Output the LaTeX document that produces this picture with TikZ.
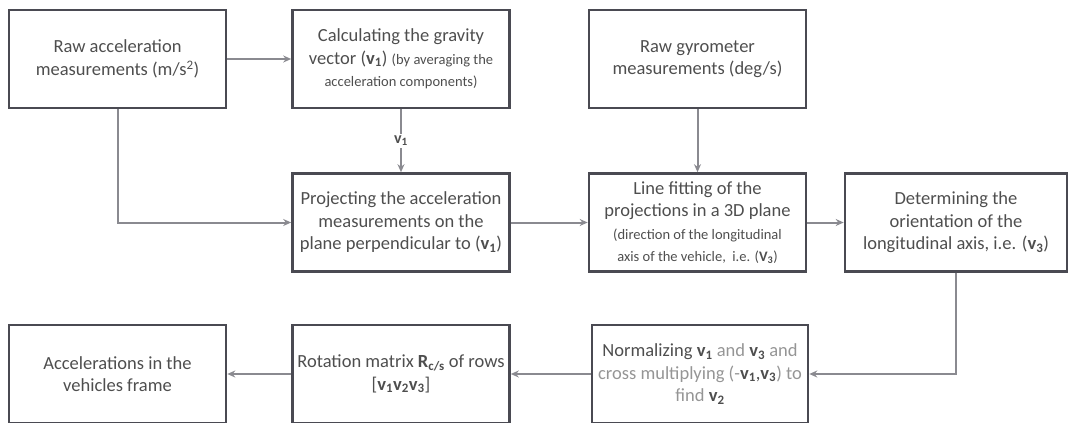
\documentclass[tikz,border=0pt]{standalone}
\usepackage{fontspec}
\setmainfont{Carlito}
\usetikzlibrary{arrows.meta}
\definecolor{FlowBorder}{HTML}{4A4A52}
\definecolor{FlowText}{HTML}{4E4E4E}
\definecolor{FlowArrow}{HTML}{8A8A90}
\definecolor{FlowFaint}{HTML}{959595}
\newcommand{\vb}[1]{\textbf{v\textsubscript{#1}}}
\newcommand{\smalltxt}{\fontsize{14.5}{19}\selectfont}

\begin{document}
\begin{tikzpicture}[x=1pt,y=-1pt,>={Stealth[length=8pt,width=7pt]},
  box/.style={draw=FlowBorder,line width=2.6pt,minimum width=217pt,minimum height=98pt,
    align=center,text=FlowText,font=\fontsize{18.5}{22.5}\selectfont,inner sep=2pt},
  flow/.style={->,FlowArrow,line width=2pt}]
  \useasboundingbox (0,0) rectangle (1069,423);
  % top row
  \node[box] (rawacc) at (117.5,59) {Raw acceleration\\measurements (m/s\textsuperscript{2})};
  \node[box] (gravity) at (401,59) {Calculating the gravity\\vector (\vb1) {\smalltxt (by averaging the}\\{\smalltxt acceleration components)}};
  \node[box] (rawgyro) at (697.5,59) {Raw gyrometer\\measurements (deg/s)};
  % middle row
  \node[box] (project) at (401,222.5) {Projecting the acceleration\\measurements on the\\plane perpendicular to (\vb1)};
  \node[box] (linefit) at (697.5,222.5) {Line fitting of the\\projections in a 3D plane\\{\smalltxt (direction of the longitudinal}\\{\smalltxt axis of the vehicle,\ \ i.e. (\textbf{V\textsubscript{3}})}};
  \node[box,minimum width=222pt] (orient) at (956,222.5) {Determining the\\orientation of the\\longitudinal axis, i.e. (\vb3)};
  % bottom row
  \node[box] (vehacc) at (117.5,374) {Accelerations in the\\vehicles frame};
  \node[box] (rotmat) at (401,374) {Rotation matrix \textbf{R\textsubscript{c/s}} of rows\\{[}\vb1\vb2\vb3{]}};
  \node[box,minimum width=216pt] (normal) at (700,374) {Normalizing \vb1 {\color{FlowFaint}and} \vb3 {\color{FlowFaint}and}\\{\color{FlowFaint}cross multiplying (-}\vb1,\vb3{\color{FlowFaint}) to}\\{\color{FlowFaint}find} \vb2};
  % connectors
  \draw[flow] (rawacc) -- (gravity);
  \draw[flow] (rawacc.south) |- (project.west);
  \draw[flow] (gravity) -- node[fill=white,inner sep=2pt,text=FlowText,font=\fontsize{16}{18}\selectfont] {\vb1} (project);
  \draw[flow] (rawgyro) -- (linefit);
  \draw[flow] (project) -- (linefit);
  \draw[flow] (linefit) -- (orient);
  \draw[flow] (orient.south) |- (normal.east);
  \draw[flow] (normal) -- (rotmat);
  \draw[flow] (rotmat) -- (vehacc);
\end{tikzpicture}
\end{document}
